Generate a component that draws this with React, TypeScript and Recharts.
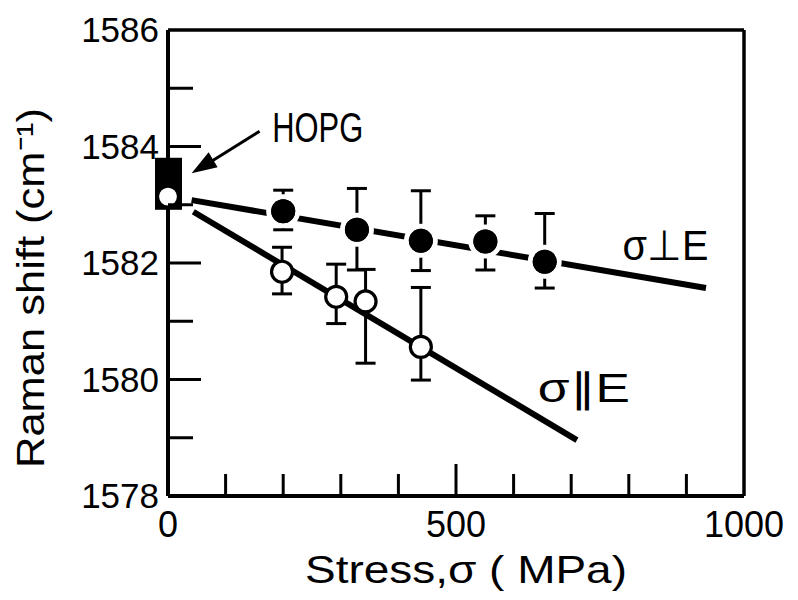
import React from "react";
import {
  ComposedChart,
  Line,
  Scatter,
  XAxis,
  YAxis,
  ErrorBar,
  ReferenceLine,
  ReferenceDot,
} from "recharts";

// sigma perpendicular to E (filled circles)
const perpStress = [200, 328, 439, 551, 654];
const perpShift = [1582.89, 1582.57, 1582.38, 1582.37, 1582.02];
const perpHigh = [1583.25, 1583.28, 1583.24, 1582.81, 1582.85];
const perpLow = [1582.57, 1581.88, 1581.87, 1581.88, 1581.57];

// sigma parallel to E (open circles)
const parStress = [0, 198, 292, 343, 439];
const parShift = [1583.14, 1581.85, 1581.42, 1581.34, 1580.56];
const parHigh = [null, 1582.27, 1581.98, 1581.89, 1581.58];
const parLow = [null, 1581.47, 1580.96, 1580.28, 1579.99];

// HOPG reference
const hopgStress = [0];
const hopgShift = [1583.36];

// fitted lines (as drawn)
const perpFitStress = [41, 934];
const perpFitShift = [1583.08, 1581.57];
const parFitStress = [44, 710];
const parFitShift = [1582.88, 1578.96];

const xTicks = [0, 100, 200, 300, 400, 500, 600, 700, 800, 900, 1000];
const xLabels = [0, 500, 1000];
const yTicks = [1578, 1579, 1580, 1581, 1582, 1583, 1584, 1585, 1586];
const yLabels = [1578, 1580, 1582, 1584, 1586];

const FONT = "'Liberation Sans', Arial, Helvetica, sans-serif";

const withErr = (xs: number[], ys: number[], hi: (number | null)[], lo: (number | null)[]) =>
  xs.map((x, i) => ({
    x,
    y: ys[i],
    err: hi[i] == null || lo[i] == null ? null : [ys[i] - (lo[i] as number), (hi[i] as number) - ys[i]],
  }));

const perpData = withErr(perpStress, perpShift, perpHigh, perpLow);
const parData = withErr(parStress, parShift, parHigh, parLow);
const hopgData = hopgStress.map((x, i) => ({ x, y: hopgShift[i] }));
const perpFit = perpFitStress.map((x, i) => ({ x, y: perpFitShift[i] }));
const parFit = parFitStress.map((x, i) => ({ x, y: parFitShift[i] }));

const XTick = (props: any) => {
  const { x, y, payload } = props;
  const v = payload.value;
  const len = v === 500 ? 32 : 22;
  return (
    <g>
      {v > 0 && v < 1000 && (
        <line x1={x} x2={x} y1={y} y2={y - len} stroke="#000" strokeWidth={3} />
      )}
      {xLabels.includes(v) && (
        <text x={x} y={y + 41} textAnchor="middle" fontSize={36} fontFamily={FONT} fill="#000">
          {v}
        </text>
      )}
    </g>
  );
};

const YTick = (props: any) => {
  const { x, y, payload } = props;
  const v = payload.value;
  const major = yLabels.includes(v);
  const len = major ? 33 : 25;
  return (
    <g>
      {v > 1578 && v < 1586 && (
        <line x1={x} x2={x + len} y1={y} y2={y} stroke="#000" strokeWidth={3} />
      )}
      {major && (
        <text x={x - 9} y={y + 12} textAnchor="end" fontSize={35} fontFamily={FONT} fill="#000">
          {v}
        </text>
      )}
    </g>
  );
};

const XTitle = (props: any) => {
  const { viewBox } = props;
  const cx = viewBox.x + viewBox.width / 2 + 10;
  return (
    <text
      x={cx}
      y={viewBox.y + 87}
      textAnchor="middle"
      fontSize={39}
      fontFamily={FONT}
      fill="#000"
      textLength={322}
      lengthAdjust="spacingAndGlyphs"
    >
      Stress,σ ( MPa)
    </text>
  );
};

const YTitle = (props: any) => {
  const { viewBox } = props;
  const cy = viewBox.y + viewBox.height / 2 + 25;
  return (
    <text
      transform={`translate(36, ${cy}) rotate(-90)`}
      textAnchor="middle"
      fontSize={39}
      fontFamily={FONT}
      fill="#000"
      textLength={360}
      lengthAdjust="spacingAndGlyphs"
    >
      Raman shift (cm⁻¹)
    </text>
  );
};

// filled marker with a white halo that breaks the fitted line around it
const HaloDot = (props: any) => (
  <g>
    <circle cx={props.cx} cy={props.cy} r={17} fill="#fff" />
    <circle cx={props.cx} cy={props.cy} r={12} fill="#000" />
  </g>
);
const FilledDot = (props: any) => <circle cx={props.cx} cy={props.cy} r={12} fill="#000" />;
const OpenDot = (props: any) => (
  <circle cx={props.cx} cy={props.cy} r={10.5} fill="#fff" stroke="#000" strokeWidth={3.2} />
);
const HopgMark = (props: any) => (
  <rect x={props.cx - 13} y={props.cy - 26} width={27} height={52} fill="#000" />
);

const Arrow = (props: any) => {
  const { cx, cy } = props;
  return (
    <g>
      <line x1={cx + 20} y1={cy - 12} x2={cx + 68} y2={cy - 42} stroke="#000" strokeWidth={3} />
      <polygon
        points={`${cx},${cy} ${cx + 17},${cy - 21} ${cx + 26},${cy - 6}`}
        fill="#000"
      />
    </g>
  );
};

const textShape = (label: string, size: number, length: number) => (props: any) => (
  <text
    x={props.cx}
    y={props.cy}
    fontSize={size}
    fontFamily={FONT}
    fill="#000"
    textLength={length}
    lengthAdjust="spacingAndGlyphs"
  >
    {label}
  </text>
);

export default function App() {
  return (
    <ComposedChart
      width={790}
      height={590}
      margin={{ top: 22, right: 54, left: 10, bottom: 42 }}
      style={{ background: "#fff" }}
    >
      <XAxis
        dataKey="x"
        type="number"
        domain={[0, 1000]}
        ticks={xTicks}
        interval={0}
        tickSize={0}
        tickMargin={0}
        tickLine={false}
        tick={<XTick />}
        axisLine={{ stroke: "#000", strokeWidth: 4 }}
        height={60}
        label={<XTitle />}
      />
      <YAxis
        dataKey="y"
        type="number"
        domain={[1578, 1586]}
        ticks={yTicks}
        interval={0}
        tickSize={0}
        tickMargin={0}
        tickLine={false}
        tick={<YTick />}
        axisLine={{ stroke: "#000", strokeWidth: 4 }}
        width={150}
        label={<YTitle />}
      />
      <ReferenceLine y={1586} stroke="#000" strokeWidth={3.5} />
      <ReferenceLine x={1000} stroke="#000" strokeWidth={3.5} />

      <Line
        data={perpFit}
        dataKey="y"
        stroke="#000"
        strokeWidth={6}
        dot={false}
        activeDot={false}
        isAnimationActive={false}
      />
      <Line
        data={parFit}
        dataKey="y"
        stroke="#000"
        strokeWidth={6}
        dot={false}
        activeDot={false}
        isAnimationActive={false}
      />

      <Scatter data={perpData} dataKey="y" shape={(p: any) => <HaloDot {...p} />} isAnimationActive={false} />
      <Scatter data={perpData} dataKey="y" shape={(p: any) => <FilledDot {...p} />} isAnimationActive={false}>
        <ErrorBar dataKey="err" direction="y" width={10} stroke="#000" strokeWidth={3} />
      </Scatter>
      <Scatter data={hopgData} dataKey="y" shape={(p: any) => <HopgMark {...p} />} isAnimationActive={false} />
      <Scatter data={parData} dataKey="y" shape={(p: any) => <OpenDot {...p} />} isAnimationActive={false}>
        <ErrorBar dataKey="err" direction="y" width={10} stroke="#000" strokeWidth={3} />
      </Scatter>

      <ReferenceDot x={41} y={1583.54} r={0} shape={<Arrow />} />
      <ReferenceDot x={181} y={1584.08} r={0} shape={textShape("HOPG", 42, 91)} />
      <ReferenceDot x={789} y={1582.05} r={0} shape={textShape("σ⊥E", 42, 86)} />
      <ReferenceDot x={642} y={1579.61} r={0} shape={textShape("σ∥E", 40, 92)} />
    </ComposedChart>
  );
}
